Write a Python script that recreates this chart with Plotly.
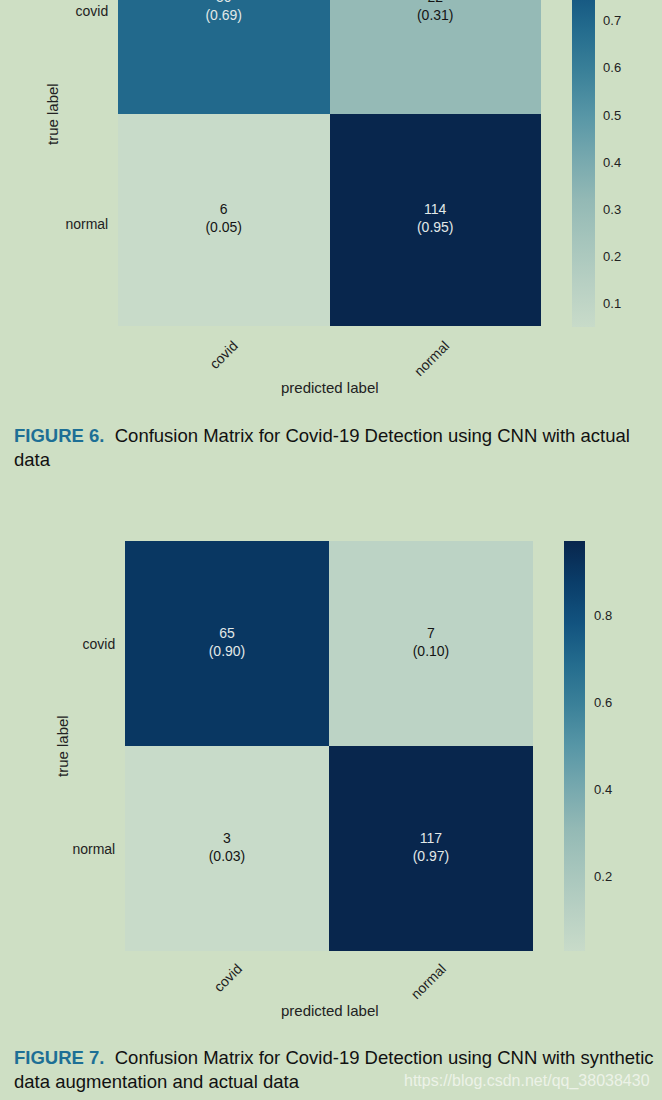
import plotly.graph_objects as go

# ---- data ----
labels = ["covid", "normal"]
counts_fig6 = [[50, 22], [6, 114]]
norm_fig6 = [[0.69, 0.31], [0.05, 0.95]]
counts_fig7 = [[65, 7], [3, 117]]
norm_fig7 = [[0.90, 0.10], [0.03, 0.97]]
cb_ticks_fig6 = [0.1, 0.2, 0.3, 0.4, 0.5, 0.6, 0.7, 0.8, 0.9]
cb_ticks_fig7 = [0.2, 0.4, 0.6, 0.8]
caption6 = ("FIGURE 6.", "Confusion Matrix for Covid-19 Detection using CNN with actual", "data")
caption7 = ("FIGURE 7.", "Confusion Matrix for Covid-19 Detection using CNN with synthetic",
            "data augmentation and actual data")
watermark = "https://blog.csdn.net/qq_38038430"

W, H = 662, 1100
BG = "#cedfc4"
FONT = "Liberation Sans, Arial, sans-serif"

colorscale = [
    [0.0, "#c8dbc9"], [0.1, "#b8d0c3"], [0.2, "#a6c5bc"], [0.3, "#93b9b5"],
    [0.4, "#76a8ae"], [0.5, "#5796a6"], [0.6, "#3b8199"], [0.7, "#246c8e"],
    [0.8, "#12537f"], [0.9, "#0a3d69"], [1.0, "#08264d"],
]

def px_x(p):
    return p / W

def px_y(p):
    return 1 - p / H

idx = [0, 1]

def text_trace(counts, norm, xa, ya):
    zmin = min(min(r) for r in norm)
    zmax = max(max(r) for r in norm)
    xs, ys, ts, cs = [], [], [], []
    for i, (rc, rv) in enumerate(zip(counts, norm)):
        for j, (c, v) in enumerate(zip(rc, rv)):
            xs.append(idx[j]); ys.append(idx[i])
            ts.append(f"{c}<br>({v:.2f})")
            frac = (v - zmin) / (zmax - zmin)
            cs.append("#e2e9e8" if frac > 0.5 else "#141414")
    return go.Scatter(x=xs, y=ys, text=ts, mode="text", textposition="middle center",
                      textfont=dict(size=14, family=FONT, color=cs), cliponaxis=True,
                      xaxis=xa, yaxis=ya, hoverinfo="skip", showlegend=False)

fig = go.Figure()

fig.add_trace(go.Heatmap(
    z=norm_fig6, x=idx, y=idx,
    colorscale=colorscale, xaxis="x", yaxis="y", hoverinfo="skip",
    colorbar=dict(
        x=px_x(572), xanchor="left", thickness=23, outlinewidth=0, xpad=0, ypad=0,
        lenmode="pixels", len=424, yanchor="bottom", y=px_y(327),
        tickvals=cb_ticks_fig6, ticks="outside", ticklen=6, tickcolor="rgba(0,0,0,0)",
        tickfont=dict(size=13, color="#222", family=FONT),
    ),
))
fig.add_trace(text_trace(counts_fig6, norm_fig6, "x", "y"))

fig.add_trace(go.Heatmap(
    z=norm_fig7, x=idx, y=idx,
    colorscale=colorscale, xaxis="x2", yaxis="y2", hoverinfo="skip",
    colorbar=dict(
        x=px_x(564), xanchor="left", thickness=21, outlinewidth=0, xpad=0, ypad=0,
        lenmode="pixels", len=410, yanchor="bottom", y=px_y(951),
        tickvals=cb_ticks_fig7, ticks="outside", ticklen=7, tickcolor="rgba(0,0,0,0)",
        tickfont=dict(size=13, color="#222", family=FONT),
    ),
))
fig.add_trace(text_trace(counts_fig7, norm_fig7, "x2", "y2"))

axis_common = dict(showgrid=False, zeroline=False, showline=False,
                   ticks="outside", tickcolor="rgba(0,0,0,0)",
                   tickfont=dict(size=14, color="#222", family=FONT),
                   tickvals=idx, ticktext=labels, automargin=False,
                   ticklabeloverflow="allow")

fig.update_layout(
    width=W, height=H, autosize=False,
    margin=dict(l=0, r=0, t=0, b=0, autoexpand=False),
    paper_bgcolor=BG, plot_bgcolor=BG,
    font=dict(family=FONT, color="#222"),
    xaxis=dict(domain=[px_x(118), px_x(541)], range=[-0.5, 1.5], anchor="y",
               tickangle=-45, ticklen=5, ticklabelshift=10, **axis_common),
    yaxis=dict(domain=[px_y(326), 1.0], range=[1.5, -0.035], anchor="x",
               ticklen=6, ticklabelshift=-4, **axis_common),
    xaxis2=dict(domain=[px_x(125), px_x(533)], range=[-0.5, 1.5], anchor="y2",
                tickangle=-45, ticklen=3, ticklabelshift=11, **axis_common),
    yaxis2=dict(domain=[px_y(951), px_y(541)], range=[1.5, -0.5], anchor="x2",
                ticklen=6, ticklabelshift=-1, **axis_common),
)

ann = []
def add_text(x, y, text, size, angle=0, xanchor="center", color="#222", align="center"):
    ann.append(dict(xref="paper", yref="paper", x=px_x(x), y=px_y(y), text=text,
                    showarrow=False, textangle=angle, xanchor=xanchor, yanchor="middle",
                    align=align, font=dict(size=size, color=color, family=FONT)))

add_text(52, 114, "true label", 15, angle=-90)
add_text(330, 387, "predicted label", 15)
add_text(62, 746, "true label", 15, angle=-90)
add_text(330, 1010, "predicted label", 15)

def caption(y, parts):
    txt = (f"<b><span style='color:#1d6f95'>{parts[0]}</span></b>&nbsp;&nbsp;{parts[1]}<br>{parts[2]}")
    add_text(12, y, txt, 18.5, xanchor="left", align="left", color="#111")

caption(448, caption6)
caption(1069, caption7)

ann.append(dict(xref="paper", yref="paper", x=px_x(652), y=px_y(1081), text=watermark,
                showarrow=False, xanchor="right", yanchor="middle",
                font=dict(size=16, color="rgba(245,248,242,0.8)", family=FONT)))

fig.update_layout(annotations=ann)

fig.write_html("out.html")
